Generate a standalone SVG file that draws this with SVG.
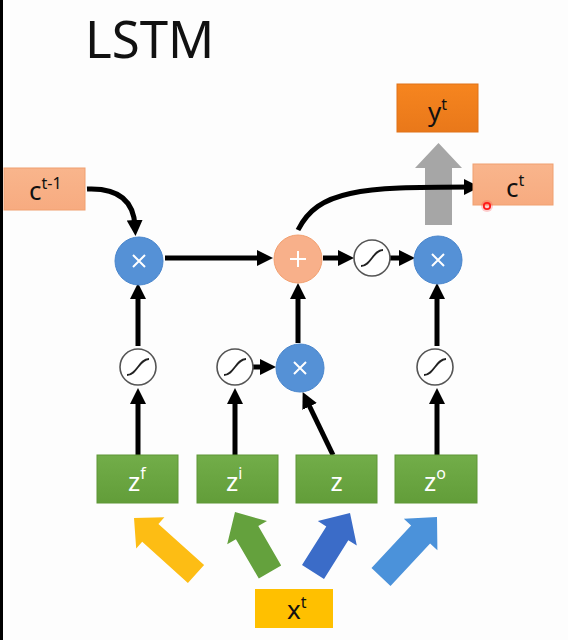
<svg xmlns="http://www.w3.org/2000/svg" width="568" height="640" viewBox="0 0 568 640">
<defs>
<style>
.t{font-family:"Noto Sans","Open Sans","Liberation Sans",sans-serif;}
.lbl{font-size:26px;fill:#111;}
.sup{font-size:16px;}
.wl{font-size:26px;fill:#fff;}
.con{fill:none;stroke:#000;stroke-width:5;marker-end:url(#ah);}
.mul{fill:#5591d6;stroke:#4a86cc;stroke-width:1;}
.sig{fill:#fff;stroke:#555;stroke-width:1.6;}
.scurve{fill:none;stroke:#222;stroke-width:1.8;}
.sym{stroke:#fff;stroke-width:2;fill:none;}
.green{fill:url(#gg);stroke:#5e9637;stroke-width:1;}
.lor{fill:url(#lo);stroke:#f0a070;stroke-width:1;}
</style>
<linearGradient id="gg" x1="0" y1="0" x2="0" y2="1"><stop offset="0" stop-color="#72ad49"/><stop offset="1" stop-color="#629d39"/></linearGradient>
<linearGradient id="lo" x1="0" y1="0" x2="0" y2="1"><stop offset="0" stop-color="#f9b58c"/><stop offset="1" stop-color="#f7ab80"/></linearGradient>
<linearGradient id="do" x1="0" y1="0" x2="0" y2="1"><stop offset="0" stop-color="#f6851f"/><stop offset="1" stop-color="#e9781a"/></linearGradient>
<marker id="ah" viewBox="0 0 16 16" markerWidth="16" markerHeight="16" refX="6" refY="8" orient="auto" markerUnits="userSpaceOnUse">
<path d="M0,0 L16,8 L0,16 z" fill="#000"/>
</marker>
<g id="sigm"><circle class="sig" r="18"/><path class="scurve" d="M-11,8 C-1,8 1,-8 11,-8"/></g>
</defs>
<rect width="568" height="640" fill="#fdfdfd"/>
<rect x="0" y="0" width="3" height="640" fill="#000"/>
<text class="t" x="85" y="58" font-size="51" fill="#111">LSTM</text>

<g id="input-arrows">
<polygon points="204.1,565.1 158.4,523.9 164.4,517.2 134,518 136.2,548.4 142.2,541.7 187.9,582.9" fill="#fdbd14"/>
<polygon points="281.2,565.4 258.3,526.1 267,521.1 235,512 227.2,544.3 235.9,539.3 258.8,578.6" fill="#64a13d"/>
<polygon points="324,578.9 348.3,540.2 356.8,545.5 350,513 317.8,521.1 326.3,526.4 302,565.1" fill="#3b6cc8"/>
<polygon points="390.5,585.9 430.1,543.4 437.4,550.2 437,517 403.8,518.8 411.1,525.6 371.5,568.1" fill="#4b92da"/>
</g>
<g id="output-arrow">
<polygon points="425,225 425,168 415,168 438.5,143 462,168 452,168 452,225" fill="#a6a6a6"/>
</g>

<g id="connectors">
<path class="con" d="M87,189 Q133,187 135,226"/>
<path class="con" d="M165,258 L263,258"/>
<path class="con" d="M323,258 L344,258"/>
<path class="con" d="M390,258 L405,258"/>
<path class="con" d="M298,230 C318,190 360,187 470,187"/>
<path class="con" d="M138,346 L138,293"/>
<path class="con" d="M298,343 L298,293"/>
<path class="con" d="M437,346 L437,293"/>
<path class="con" d="M253,367 L266,367"/>
<path class="con" d="M138,455 L138,398"/>
<path class="con" d="M235,455 L235,398"/>
<path class="con" d="M437,455 L437,398"/>
<path class="con" d="M333,455 L307,401"/>
</g>

<g id="c-prev"><rect class="lor" x="4" y="168" width="81" height="42"/><text class="t lbl" x="29" y="200">c<tspan class="sup" dy="-11">t-1</tspan></text></g>
<g id="c-t"><rect class="lor" x="473" y="164" width="80" height="41"/><text class="t lbl" x="506" y="197">c<tspan class="sup" dy="-11">t</tspan></text></g>
<g id="y-t"><rect x="397" y="84" width="81" height="48" fill="url(#do)" stroke="#e07218" stroke-width="1"/><text class="t lbl" x="428" y="121">y<tspan class="sup" dy="-11">t</tspan></text></g>

<g id="forget-mul"><circle class="mul" cx="139" cy="261" r="24"/><path class="sym" d="M133,255 L145,267 M145,255 L133,267"/></g>
<g id="add"><circle cx="298" cy="259" r="24" fill="#f8b08a" stroke="#f2a070" stroke-width="1"/><path class="sym" d="M298,251 L298,267 M290,259 L306,259" stroke="#fde3d3"/></g>
<g id="tanh-out"><use href="#sigm" x="372" y="258"/></g>
<g id="out-mul"><circle class="mul" cx="438" cy="260" r="24"/><path class="sym" d="M432,254 L444,266 M444,254 L432,266"/></g>

<g id="sig-f"><use href="#sigm" x="138" y="367"/></g>
<g id="sig-i"><use href="#sigm" x="235" y="367"/></g>
<g id="in-mul"><circle class="mul" cx="300" cy="368" r="24"/><path class="sym" d="M294,362 L306,374 M306,362 L294,374"/></g>
<g id="sig-o"><use href="#sigm" x="435" y="367"/></g>

<g id="zf"><rect class="green" x="97" y="455" width="81" height="48"/><text class="t wl" x="128" y="491">z<tspan class="sup" dy="-12">f</tspan></text></g>
<g id="zi"><rect class="green" x="197" y="455" width="81" height="48"/><text class="t wl" x="226" y="491">z<tspan class="sup" dy="-12">i</tspan></text></g>
<g id="z"><rect class="green" x="296" y="455" width="81" height="48"/><text class="t wl" x="336.5" y="491" text-anchor="middle">z</text></g>
<g id="zo"><rect class="green" x="395" y="455" width="82" height="48"/><text class="t wl" x="424" y="491">z<tspan class="sup" dy="-12">o</tspan></text></g>

<g id="x-t"><rect x="255" y="589" width="78" height="39" fill="#ffc000"/><text class="t lbl" x="287" y="619">x<tspan class="sup" dy="-11">t</tspan></text></g>

<circle cx="487" cy="206" r="6" fill="#ff4040" opacity="0.25"/>
<circle cx="487" cy="206" r="3.2" fill="none" stroke="#ff1a1a" stroke-width="1.8"/>
</svg>
